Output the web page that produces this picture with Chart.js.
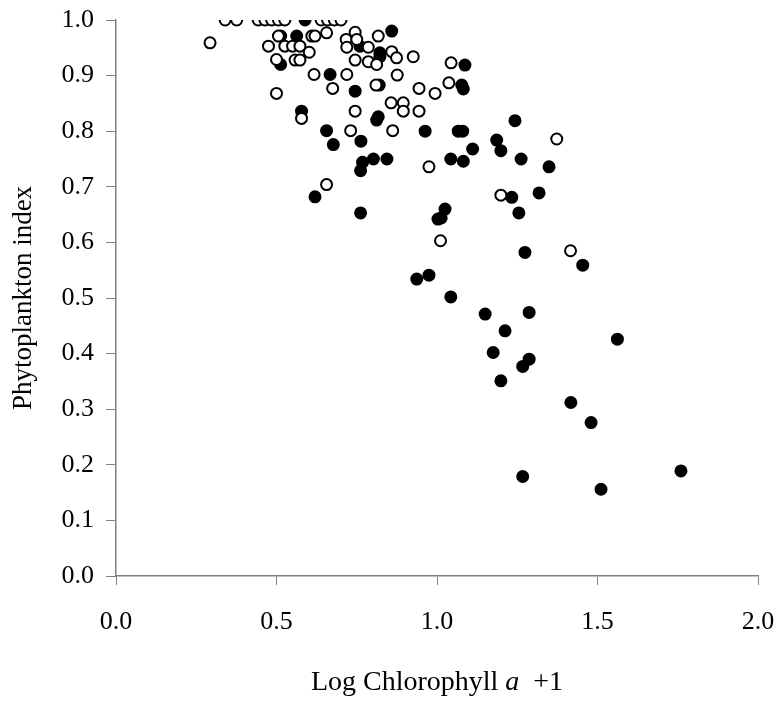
<!DOCTYPE html>
<html>
<head>
<meta charset="utf-8">
<script src="https://cdn.jsdelivr.net/npm/chart.js@4.4.1/dist/chart.umd.min.js"></script>
<style>
  html, body { margin: 0; padding: 0; background: #fff; }
  #wrap { width: 781px; height: 702px; }
</style>
</head>
<body>
<div id="wrap"><canvas id="scatter"></canvas></div>
<script>
// open circles
const openX = [0.340, 0.376, 0.443, 0.464, 0.485, 0.506, 0.526, 0.639, 0.659, 0.680, 0.701,
  0.293, 0.506, 0.610, 0.620, 0.656, 0.745, 0.717, 0.750, 0.817,
  0.475, 0.526, 0.550, 0.573, 0.602, 0.719, 0.786, 0.859, 0.874, 0.926,
  0.500, 0.558, 0.573, 0.745, 0.786, 0.812, 1.044,
  0.617, 0.719, 0.876, 0.675, 0.500, 0.810, 0.944, 0.994, 1.037,
  0.857, 0.895, 0.895, 0.944, 0.745, 0.578, 0.731, 0.862,
  1.373, 0.975, 0.656, 1.199, 1.011, 1.416];
const openY = [1.000, 1.000, 1.000, 1.000, 1.000, 1.000, 1.000, 1.000, 1.000, 1.000, 1.000,
  0.959, 0.971, 0.971, 0.971, 0.977, 0.978, 0.965, 0.965, 0.971,
  0.953, 0.953, 0.953, 0.953, 0.942, 0.951, 0.951, 0.943, 0.932, 0.934,
  0.929, 0.928, 0.928, 0.928, 0.925, 0.920, 0.923,
  0.902, 0.902, 0.901, 0.877, 0.868, 0.883, 0.877, 0.868, 0.887,
  0.851, 0.851, 0.836, 0.836, 0.836, 0.823, 0.801, 0.801,
  0.786, 0.736, 0.704, 0.685, 0.603, 0.585];

// filled circles
const filledX = [0.589, 0.513, 0.563, 0.859, 0.760, 0.822, 0.822, 0.513, 1.087, 0.667,
  0.745, 0.820, 1.077, 1.082, 0.578, 0.817, 0.812, 0.656, 0.963, 1.066, 1.080, 1.243,
  0.677, 0.763, 1.186, 1.199, 1.111, 0.768, 0.762, 0.802, 0.844,
  1.043, 1.082, 1.262, 1.349, 0.620, 0.762, 1.233, 1.318, 1.255,
  1.025, 1.003, 1.013, 1.274, 1.454, 0.937, 0.975, 1.043, 1.150, 1.287,
  1.212, 1.562, 1.175, 1.287, 1.267, 1.199, 1.417, 1.480, 1.267, 1.511, 1.760];
const filledY = [1.000, 0.971, 0.971, 0.980, 0.953, 0.941, 0.934, 0.920, 0.919, 0.902,
  0.872, 0.883, 0.883, 0.876, 0.836, 0.826, 0.820, 0.801, 0.800, 0.800, 0.800, 0.819,
  0.776, 0.782, 0.784, 0.765, 0.768, 0.744, 0.729, 0.750, 0.750,
  0.750, 0.746, 0.750, 0.736, 0.682, 0.653, 0.681, 0.689, 0.653,
  0.660, 0.642, 0.644, 0.582, 0.559, 0.534, 0.541, 0.502, 0.471, 0.474,
  0.441, 0.426, 0.402, 0.390, 0.377, 0.351, 0.312, 0.276, 0.179, 0.156, 0.189];

const xTicks = [0, 0.5, 1.0, 1.5, 2.0];
const yTicks = [0, 0.1, 0.2, 0.3, 0.4, 0.5, 0.6, 0.7, 0.8, 0.9, 1.0];

const serif = '"Liberation Serif", "Times New Roman", serif';
const axisGrey = '#808080';

function toPoints(xs, ys) {
  return xs.map((x, i) => ({ x: x, y: ys[i] }));
}

// x title has an italic "a", so it is drawn by hand under the axis
const xTitlePlugin = {
  id: 'xTitle',
  afterDraw(chart) {
    const ctx = chart.ctx;
    const area = chart.chartArea;
    const parts = [
      { t: 'Log Chlorophyll ', f: '28px ' + serif },
      { t: 'a', f: 'italic 28px ' + serif },
      { t: '  +1', f: '28px ' + serif }
    ];
    ctx.save();
    let total = 0;
    parts.forEach(p => { ctx.font = p.f; total += ctx.measureText(p.t).width; });
    let x = (area.left + area.right) / 2 - total / 2;
    ctx.fillStyle = '#000';
    ctx.textBaseline = 'middle';
    parts.forEach(p => {
      ctx.font = p.f;
      ctx.fillText(p.t, x, 683);
      x += ctx.measureText(p.t).width;
    });
    ctx.restore();
  }
};

new Chart(document.getElementById('scatter'), {
  type: 'scatter',
  data: {
    datasets: [
      {
        label: 'open',
        data: toPoints(openX, openY),
        pointStyle: 'circle',
        pointRadius: 5.5,
        pointBorderWidth: 2,
        pointBackgroundColor: '#fff',
        pointBorderColor: '#000'
      },
      {
        label: 'filled',
        data: toPoints(filledX, filledY),
        pointStyle: 'circle',
        pointRadius: 5.5,
        pointBorderWidth: 2,
        pointBackgroundColor: '#000',
        pointBorderColor: '#000'
      }
    ]
  },
  options: {
    responsive: true,
    maintainAspectRatio: false,
    animation: false,
    layout: { padding: { left: 0, right: 23, top: 20, bottom: 0 } },
    plugins: {
      legend: { display: false },
      tooltip: { enabled: false }
    },
    scales: {
      x: {
        type: 'linear',
        min: 0,
        max: 2,
        afterBuildTicks: s => { s.ticks = xTicks.map(v => ({ value: v })); },
        afterFit: s => { s.height = 126; s.paddingLeft = 0; s.paddingRight = 0; },
        ticks: {
          color: '#000',
          font: { family: serif, size: 26 },
          padding: 22,
          maxRotation: 0,
          callback: v => Number(v).toFixed(1)
        },
        grid: { drawOnChartArea: false, drawTicks: true, tickLength: 9, color: axisGrey },
        border: { color: axisGrey, width: 1.5 }
      },
      y: {
        type: 'linear',
        min: 0,
        max: 1,
        afterBuildTicks: s => { s.ticks = yTicks.map(v => ({ value: v })); },
        afterFit: s => { s.width = 116; s.paddingTop = 0; s.paddingBottom = 0; },
        ticks: {
          color: '#000',
          font: { family: serif, size: 26 },
          padding: 12,
          callback: v => Number(v).toFixed(1)
        },
        title: {
          display: true,
          text: 'Phytoplankton index',
          color: '#000',
          font: { family: serif, size: 27 },
          padding: { top: 8, bottom: 0 }
        },
        grid: { drawOnChartArea: false, drawTicks: true, tickLength: 10, color: axisGrey },
        border: { color: axisGrey, width: 1.5 }
      }
    }
  },
  plugins: [xTitlePlugin]
});
</script>
</body>
</html>
